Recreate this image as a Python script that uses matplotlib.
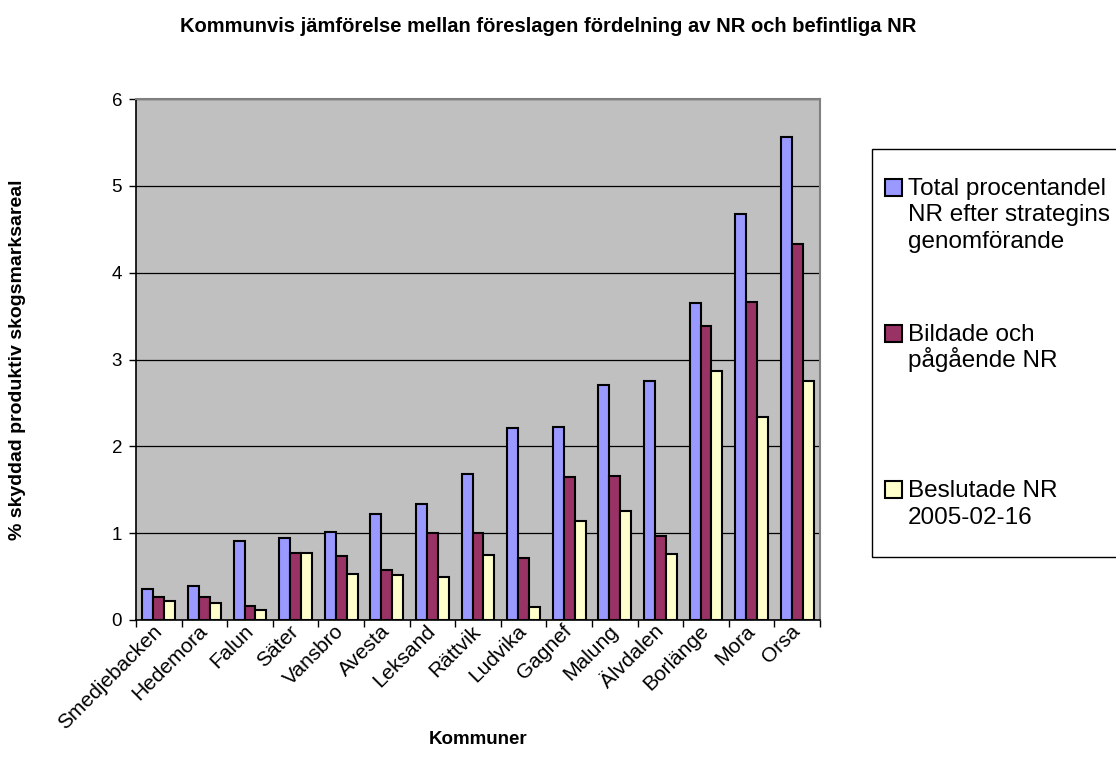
import numpy as np
import matplotlib.pyplot as plt
from matplotlib.patches import Rectangle
from matplotlib.transforms import ScaledTranslation

plt.rcParams["font.family"] = ["Liberation Sans", "DejaVu Sans"]

kommuner = [
    "Smedjebacken", "Hedemora", "Falun", "Säter", "Vansbro", "Avesta",
    "Leksand", "Rättvik", "Ludvika", "Gagnef", "Malung", "Älvdalen",
    "Borlänge", "Mora", "Orsa",
]
total = [0.36, 0.39, 0.91, 0.94, 1.01, 1.22, 1.34, 1.68, 2.21, 2.22,
         2.71, 2.75, 3.65, 4.67, 5.56]
bildade = [0.27, 0.26, 0.16, 0.77, 0.74, 0.58, 1.00, 1.00, 0.71, 1.65,
           1.66, 0.97, 3.39, 3.66, 4.33]
beslutade = [0.22, 0.20, 0.11, 0.77, 0.53, 0.52, 0.50, 0.75, 0.15, 1.14,
             1.26, 0.76, 2.87, 2.34, 2.75]

series = [
    ("Total procentandel\nNR efter strategins\ngenomförande", total, "#9999FF"),
    ("Bildade och\npågående NR", bildade, "#993366"),
    ("Beslutade NR\n2005-02-16", beslutade, "#FFFFCC"),
]

W, H = 1116, 761
fig = plt.figure(figsize=(W / 100, H / 100), dpi=100)
ax = fig.add_axes([136 / W, 1 - 620 / H, (820 - 136) / W, (620 - 99) / H])
ax.set_facecolor("#C0C0C0")

x = np.arange(len(kommuner))
width = 0.24
for i, (label, vals, color) in enumerate(series):
    ax.bar(x + (i - 1) * width, vals, width, color=color,
           edgecolor="black", linewidth=1.5, zorder=3)

ax.set_xlim(-0.5, len(kommuner) - 0.5)
ax.set_ylim(0, 6)
ax.set_yticks(range(0, 7))
ax.yaxis.grid(True, color="black", linewidth=0.9, zorder=1)
ax.set_axisbelow(True)

ax.set_xticks(np.arange(len(kommuner) + 1) - 0.5)
ax.set_xticklabels([])
ax.set_xticks(x, minor=True)
ax.set_xticklabels(kommuner, minor=True, rotation=45, ha="right",
                   va="center", rotation_mode="anchor", fontsize=15)
offset = ScaledTranslation(6 / 100, 0, fig.dpi_scale_trans)
for lab in ax.xaxis.get_minorticklabels():
    lab.set_transform(lab.get_transform() + offset)
ax.tick_params(axis="x", which="minor", length=0, pad=6)
ax.tick_params(axis="x", which="major", length=5, width=1, direction="out")
ax.tick_params(axis="y", length=5, width=1, direction="out", labelsize=13.5, pad=5)

for side in ["top", "right"]:
    ax.spines[side].set_color("#808080")
    ax.spines[side].set_linewidth(1.5)
for side in ["left", "bottom"]:
    ax.spines[side].set_color("black")
    ax.spines[side].set_linewidth(1.2)

fig.text(548 / W, 1 - 32 / H,
         "Kommunvis jämförelse mellan föreslagen fördelning av NR och befintliga NR",
         ha="center", va="baseline", fontsize=14.5, fontweight="bold")
fig.text(18 / W, 1 - 360 / H, "% skyddad produktiv skogsmarksareal",
         rotation=90, ha="center", va="center", fontsize=14, fontweight="bold")
fig.text(478 / W, 1 - 740 / H, "Kommuner", ha="center", va="center",
         fontsize=13.5, fontweight="bold")

# legend box, cut off at the right edge like the original
fig.patches.append(Rectangle((872 / W, 1 - 557 / H), (W + 10 - 872) / W,
                             (557 - 149) / H, transform=fig.transFigure,
                             facecolor="white", edgecolor="black",
                             linewidth=1, clip_on=False))
legend_baseline = [195, 341, 497]
line_pitch = 26.5
for (label, vals, color), base in zip(series, legend_baseline):
    fig.patches.append(Rectangle((885 / W, 1 - (base + 1) / H), 17 / W, 17 / H,
                                 transform=fig.transFigure, facecolor=color,
                                 edgecolor="black", linewidth=1.5))
    for k, line in enumerate(label.split("\n")):
        fig.text(908 / W, 1 - (base + k * line_pitch) / H, line,
                 ha="left", va="baseline", fontsize=17.5)

fig.savefig("out.png", dpi=100)
